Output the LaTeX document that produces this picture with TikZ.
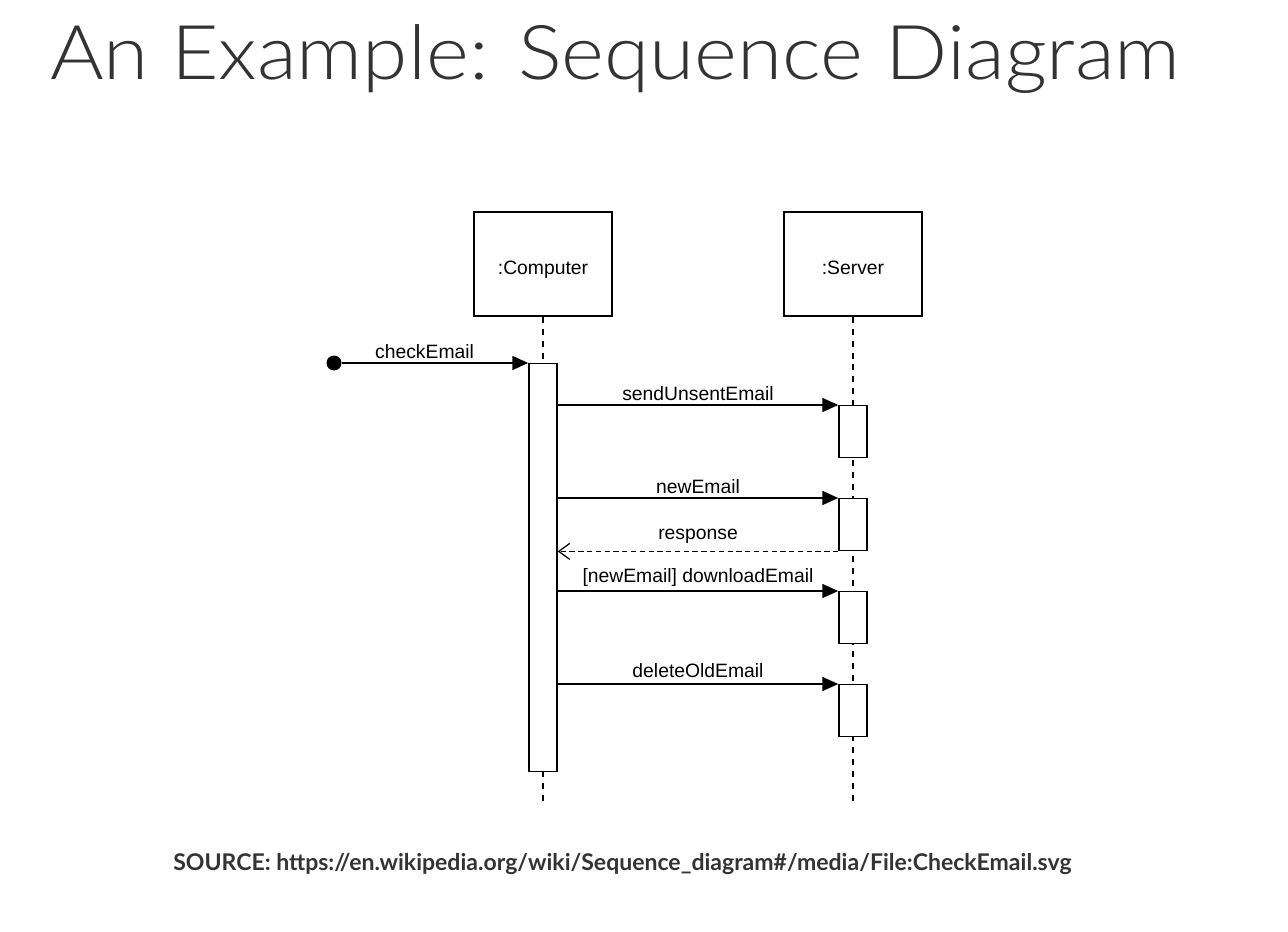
\documentclass[tikz,border=0pt]{standalone}
\usepackage{fontspec}
\setmainfont{Liberation Sans}
\newfontfamily\titlefont{Lato Light}
\newfontfamily\sourcefont{Lato}
\usetikzlibrary{arrows.meta,positioning}
\tikzset{object/.style = {rectangle, draw, line width=0.8pt,
  minimum width=2.76cm, minimum height=2.08cm,
  text height=14pt, text depth=2pt}}
\tikzset{activation/.style = {rectangle, draw, fill=white, line width=0.8pt,
  minimum width=0.56cm, inner sep=0pt, anchor=north}}
\tikzset{lifeline/.style = {line width=0.8pt, dash pattern=on 3.4pt off 3.4pt}}
\tikzset{msg/.style = {line width=0.8pt, -{Triangle[length=0.32cm, width=0.28cm]}}}
\tikzset{reply/.style = {line width=0.8pt, dash pattern=on 3pt off 2pt,
  -{Straight Barb[length=0.22cm, width=0.32cm, line width=0.7pt]}}}
\tikzset{every node/.append style = {font=\fontsize{11}{13}\selectfont}}

\begin{document}
\begin{tikzpicture}[x=0.02cm, y=-0.02cm]
  \useasboundingbox (0,0) rectangle (1288,932);
  \node[anchor=base west, text=black!80, inner sep=0pt, xscale=1.085, transform shape,
    font=\titlefont\fontsize{43}{50}\selectfont] (title) at (50,80)
    {An Example: Sequence Diagram};
  % objects and lifelines
  \node[object] (comp) at (543,264) {:Computer};
  \node[object] (serv) at (853,264) {:Server};
  \coordinate (compend) at (543,805);
  \coordinate (servend) at (853,805);
  \draw[lifeline] (comp.south) -- (compend);
  \draw[lifeline] (serv.south) -- (servend);
  % activations
  \node[activation, minimum height=8.16cm] (ca) at (543,363) {};
  \node[activation, minimum height=1.04cm] (s1) at (853,405) {};
  \node[activation, minimum height=1.04cm] (s2) at (853,498) {};
  \node[activation, minimum height=1.04cm] (s3) at (853,591) {};
  \node[activation, minimum height=1.04cm] (s4) at (853,684) {};
  % messages
  \node[circle, fill=black, inner sep=0pt, minimum size=0.3cm] (init) at (334,363) {};
  \draw[msg] (init) -- node[above, inner sep=2pt, xshift=-6pt] {checkEmail} (ca.north west);
  \draw[msg] (s1.north west -| ca.east) -- node[above, inner sep=2pt] {sendUnsentEmail} (s1.north west);
  \draw[msg] (s2.north west -| ca.east) -- node[above, inner sep=2pt] {newEmail} (s2.north west);
  \draw[reply] (s2.south west) -- node[above, inner sep=4pt] {response} (s2.south west -| ca.east);
  \draw[msg] (s3.north west -| ca.east) -- node[above, inner sep=2pt] {[newEmail] downloadEmail} (s3.north west);
  \draw[msg] (s4.north west -| ca.east) -- node[above, inner sep=3pt] {deleteOldEmail} (s4.north west);
  \node[anchor=base west, text=black!80, inner sep=0pt,
    font=\sourcefont\bfseries\fontsize{13.1}{16}\selectfont] (source) at (173,870)
    {SOURCE: https://en.wikipedia.org/wiki/Sequence\_diagram\#/media/File:CheckEmail.svg};
\end{tikzpicture}
\end{document}
